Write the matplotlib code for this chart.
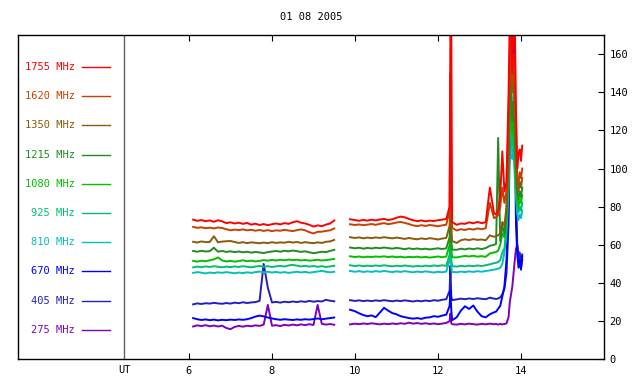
import numpy as np
import matplotlib
matplotlib.use("Agg")
import matplotlib.pyplot as plt

nan = np.nan

# time axis (UT hours): block 1, gap, block 2, flare spike, block 3, burst
hours = ([6.1, 6.2, 6.3, 6.4, 6.5, 6.6, 6.7, 6.8, 6.9, 7.0,
          7.1, 7.2, 7.3, 7.4, 7.5, 7.6, 7.7, 7.8, 7.9, 8.0,
          8.1, 8.2, 8.3, 8.4, 8.5, 8.6, 8.7, 8.8, 8.9, 9.0,
          9.1, 9.2, 9.3, 9.4, 9.5]
         + [9.65]
         + [9.88, 10.0, 10.1, 10.2, 10.3, 10.4, 10.5, 10.6, 10.7, 10.8,
            10.9, 11.0, 11.1, 11.2, 11.3, 11.4, 11.5, 11.6, 11.7, 11.8,
            11.9, 12.0, 12.1, 12.2]
         + [12.28, 12.30, 12.32, 12.34]
         + [12.45, 12.55, 12.65, 12.75, 12.85, 12.95, 13.05, 13.15, 13.25, 13.35]
         + [13.40, 13.45, 13.50, 13.55, 13.60, 13.65, 13.70, 13.73, 13.76, 13.79,
            13.82, 13.85, 13.88, 13.91, 13.94, 13.97, 14.00, 14.03])

f1755 = ([73.2, 72.6, 73.0, 72.4, 72.8, 72.1, 72.9, 72.3, 71.4, 71.8,
          71.2, 71.6, 71.0, 71.5, 70.6, 71.1, 70.4, 70.9, 70.3, 70.8,
          71.2, 70.7, 71.4, 71.0, 71.8, 72.4, 71.6, 71.2, 70.5, 69.6,
          70.2, 69.8, 70.6, 71.2, 72.8]
         + [nan]
         + [73.4, 73.0, 72.6, 73.1, 72.7, 73.2, 72.8, 73.3, 73.6, 73.0,
            73.4, 74.2, 74.8, 74.4, 73.6, 72.9, 72.4, 72.8, 72.3, 72.7,
            72.5, 72.9, 73.2, 73.6]
         + [80.0, 180.0, 180.0, 72.0]
         + [70.5, 71.2, 71.0, 71.8, 71.3, 72.0, 71.4, 71.8, 90.0, 76.5]
         + [76.0, 78.0, 86.0, 109.0, 88.0, 93.0, 139.0, 180.0, 180.0, 150.0,
            180.0, 180.0, 130.0, 100.0, 108.0, 110.0, 104.0, 112.0])

f1620 = ([69.4, 68.9, 69.2, 68.7, 69.0, 68.6, 69.1, 68.8, 68.2, 67.6,
          68.0, 67.7, 68.1, 67.6, 67.9, 67.4, 67.8, 67.3, 67.7, 67.2,
          67.6, 67.4, 67.9, 67.5, 67.2, 67.7, 68.1, 67.6, 66.6, 66.0,
          66.8, 66.9, 67.3, 67.6, 68.6]
         + [nan]
         + [70.8, 70.4, 70.7, 70.3, 70.6, 70.9, 70.5, 71.0, 71.4, 70.8,
            71.2, 71.7, 72.0, 71.5, 70.9, 70.2, 69.8, 70.3, 69.9, 70.4,
            70.1, 69.7, 70.2, 70.6]
         + [78.0, 150.0, 90.0, 69.0]
         + [67.5, 68.2, 67.8, 68.4, 68.0, 68.6, 68.2, 68.7, 82.0, 74.0]
         + [74.5, 75.5, 80.0, 90.0, 82.0, 88.0, 125.0, 160.0, 170.0, 145.0,
            160.0, 140.0, 120.0, 96.0, 92.0, 98.0, 95.0, 100.0])

f1350 = ([61.6, 61.2, 61.8, 61.4, 61.5, 64.5, 61.3, 61.7, 61.9, 62.0,
          61.5, 61.0, 61.4, 60.9, 61.3, 61.1, 60.8, 61.2, 60.9, 61.4,
          61.0, 61.3, 61.1, 61.6, 61.2, 61.5, 61.0, 61.4, 61.1, 60.9,
          61.3, 61.0, 61.6, 61.8, 62.6]
         + [nan]
         + [64.0, 63.6, 63.9, 63.4, 63.8, 63.5, 63.9, 63.6, 64.0, 63.7,
            63.4, 63.8, 63.5, 63.1, 63.6, 63.2, 62.9, 63.4, 63.0, 63.5,
            63.2, 62.8, 63.3, 63.6]
         + [70.0, 95.0, 70.0, 62.0]
         + [61.0, 62.4, 62.9, 62.5, 63.0, 62.6, 62.8, 62.4, 65.0, 64.2]
         + [64.6, 65.0, 66.0, 72.0, 70.0, 80.0, 110.0, 150.0, 160.0, 140.0,
            150.0, 130.0, 110.0, 92.0, 88.0, 93.0, 90.0, 95.0])

f1215 = ([56.8, 56.4, 56.9, 56.5, 56.7, 58.5, 56.4, 56.8, 56.3, 56.6,
          56.2, 56.5, 56.1, 56.4, 55.9, 56.3, 56.0, 55.7, 56.2, 56.5,
          56.8, 56.4, 56.9, 56.6, 57.0, 56.7, 56.3, 56.6, 56.1, 55.6,
          56.0, 56.4, 56.2, 56.8, 57.4]
         + [nan]
         + [58.6, 58.2, 58.5, 58.0, 58.4, 58.1, 58.5, 58.2, 58.6, 58.3,
            58.0, 58.4, 58.1, 57.7, 58.2, 57.8, 58.1, 57.7, 58.0, 57.6,
            57.9, 58.2, 57.8, 58.2]
         + [64.0, 80.0, 62.0, 57.5]
         + [57.4, 58.0, 57.6, 58.1, 57.7, 58.2, 57.8, 58.3, 59.5, 60.0]
         + [60.5, 116.0, 62.0, 70.0, 66.0, 78.0, 105.0, 140.0, 150.0, 125.0,
            135.0, 120.0, 100.0, 88.0, 84.0, 88.0, 85.0, 90.0])

f1080 = ([51.6, 51.2, 51.7, 51.4, 51.9, 52.4, 53.4, 51.8, 51.3, 51.6,
          51.2, 51.5, 51.9, 51.4, 51.7, 51.3, 51.6, 52.0, 51.7, 52.1,
          51.8, 52.2, 51.9, 52.3, 52.0, 52.2, 51.8, 52.1, 51.7, 51.9,
          52.2, 51.8, 52.0, 52.3, 52.6]
         + [nan]
         + [54.0, 53.6, 53.9, 53.5, 53.8, 53.6, 53.9, 53.7, 54.0, 53.6,
            53.9, 53.5, 53.8, 53.4, 53.7, 53.5, 53.8, 53.4, 53.7, 53.3,
            53.6, 53.9, 53.5, 53.9]
         + [60.0, 72.0, 58.0, 53.5]
         + [53.4, 53.8, 54.2, 53.9, 54.3, 53.8, 54.1, 53.7, 55.5, 56.0]
         + [56.2, 57.0, 60.0, 66.0, 64.0, 74.0, 98.0, 130.0, 140.0, 118.0,
            125.0, 110.0, 95.0, 84.0, 80.0, 84.0, 82.0, 86.0])

f925 = ([48.2, 48.6, 48.3, 48.7, 48.4, 48.8, 48.5, 48.2, 48.6, 48.3,
         48.7, 48.4, 48.8, 48.5, 48.2, 48.6, 48.9, 48.5, 48.8, 48.4,
         48.7, 49.0, 48.6, 49.2, 49.5, 49.1, 48.7, 49.0, 48.6, 48.9,
         48.5, 48.8, 48.4, 48.7, 49.0]
        + [nan]
        + [49.3, 48.9, 49.2, 48.8, 49.1, 48.8, 49.2, 48.9, 49.3, 49.0,
           48.7, 49.1, 48.8, 49.2, 48.9, 48.6, 49.0, 48.7, 49.1, 48.8,
           49.2, 48.9, 49.3, 49.0]
        + [55.0, 64.0, 52.0, 48.8]
        + [48.6, 49.0, 48.7, 49.1, 48.8, 49.2, 48.9, 49.3, 49.8, 50.4]
        + [50.6, 51.0, 52.0, 56.0, 58.0, 70.0, 92.0, 125.0, 135.0, 112.0,
           118.0, 102.0, 90.0, 80.0, 77.0, 80.0, 78.0, 82.0])

f810 = ([45.3, 45.7, 45.4, 45.0, 45.5, 45.2, 45.6, 45.3, 45.7, 45.4,
         45.1, 45.5, 45.2, 45.6, 45.3, 45.7, 46.0, 45.6, 45.9, 45.5,
         45.8, 45.4, 45.7, 45.3, 45.6, 45.9, 45.5, 45.8, 45.4, 45.7,
         46.0, 46.4, 45.9, 45.6, 45.9]
        + [nan]
        + [46.3, 45.9, 46.2, 45.8, 46.1, 45.8, 46.2, 45.9, 46.3, 46.0,
           45.7, 46.1, 45.8, 46.2, 45.9, 45.6, 46.0, 45.7, 46.1, 45.8,
           45.5, 45.9, 45.6, 46.0]
        + [52.0, 58.0, 48.0, 45.8]
        + [45.6, 46.0, 45.7, 46.1, 45.8, 46.2, 45.9, 46.3, 46.6, 47.0]
        + [47.2, 47.5, 48.0, 50.0, 56.0, 66.0, 88.0, 120.0, 128.0, 105.0,
           110.0, 96.0, 85.0, 76.0, 73.0, 76.0, 74.0, 78.0])

f670 = ([21.6, 21.0, 20.6, 20.9, 20.5, 20.8, 20.4, 20.7, 20.5, 20.8,
         20.6, 20.9, 20.7, 21.0, 21.6, 22.4, 22.9, 22.5, 21.9, 21.4,
         21.0, 20.7, 21.0, 20.8, 20.6, 20.9, 20.7, 21.0, 20.8, 21.1,
         21.4, 21.0, 21.3, 21.6, 21.9]
        + [nan]
        + [26.0, 25.2, 24.1, 23.2, 22.6, 23.0, 22.1, 24.5, 27.0, 25.5,
           24.2, 23.6, 22.6, 22.1, 21.6, 21.3, 21.6, 21.2, 21.8, 22.0,
           22.6, 22.3, 22.9, 23.4]
        + [28.0, 36.0, 26.0, 20.5]
        + [22.0, 25.5, 27.8, 26.4, 28.2, 25.0, 22.6, 22.0, 23.6, 24.6]
        + [25.0, 26.5, 28.0, 33.0, 38.0, 52.0, 80.0, 130.0, 180.0, 180.0,
           180.0, 120.0, 70.0, 55.0, 48.0, 52.0, 47.0, 54.0])

f405 = ([28.8, 29.3, 29.0, 29.4, 29.2, 29.6, 29.3, 29.1, 29.5, 29.2,
         29.7, 29.4, 29.9, 29.5, 29.8, 30.0, 30.6, 50.0, 37.5, 29.8,
         30.1, 29.7, 30.2, 29.9, 30.3, 30.0, 30.4, 30.1, 30.6, 30.2,
         30.5, 30.3, 31.2, 30.7, 30.4]
        + [nan]
        + [31.0, 30.6, 30.9, 30.5, 30.8, 30.5, 30.9, 30.6, 31.0, 30.7,
           30.4, 30.8, 30.5, 30.9, 30.6, 30.3, 30.7, 30.4, 30.8, 30.5,
           31.0, 30.7, 31.2, 31.5]
        + [36.0, 49.0, 33.0, 31.0]
        + [31.4, 31.8, 31.5, 31.9, 31.6, 32.0, 31.7, 31.5, 32.3, 31.8]
        + [31.6, 31.9, 32.5, 34.0, 37.0, 45.0, 70.0, 115.0, 170.0, 180.0,
           180.0, 150.0, 90.0, 60.0, 52.0, 56.0, 50.0, 55.0])

f275 = ([17.2, 17.8, 17.4, 17.9, 17.3, 17.7, 17.2, 17.6, 16.4, 15.8,
         17.0, 17.5, 17.1, 17.6, 17.3, 17.8, 17.5, 18.2, 28.5, 17.6,
         17.9, 17.4, 18.1, 17.7, 18.2, 17.8, 18.3, 17.9, 18.4, 18.0,
         28.5, 18.6, 18.2, 18.5, 18.1]
        + [nan]
        + [18.3, 18.7, 18.4, 18.8, 18.5, 18.9, 18.6, 18.3, 18.7, 18.4,
           18.8, 18.5, 18.9, 18.6, 19.2, 18.7, 19.0, 18.6, 18.9, 18.5,
           18.8, 18.4, 18.7, 19.1]
        + [20.0, 24.0, 19.0, 18.4]
        + [18.2, 18.6, 18.3, 18.7, 18.4, 18.2, 18.6, 18.3, 18.7, 18.4]
        + [18.5, 18.2, 18.6, 18.3, 18.5, 18.8, 22.0, 30.0, 34.0, 38.0,
           45.0, 52.0, 58.0, 60.0, 56.0, 50.0, 48.0, 52.0])

labels = ['1755 MHz', '1620 MHz', '1350 MHz', '1215 MHz', '1080 MHz',
          '925 MHz', '810 MHz', '670 MHz', '405 MHz', '275 MHz']
series = [f1755, f1620, f1350, f1215, f1080, f925, f810, f670, f405, f275]
colors = ['#ff0000', '#c84000', '#8b5a0a', '#228b22', '#00c000',
          '#00c070', '#00c0c0', '#0000ff', '#2020c0', '#8000c0']

plt.rcParams['font.family'] = ['DejaVu Sans Mono']

fig = plt.figure(figsize=(6.4, 3.84), dpi=100)
ax = fig.add_axes([18 / 640, 24.7 / 384, 586 / 640, 324.3 / 384])

# lowest frequency first so the red 1755 trace lies on top
for vals, col in zip(series[::-1], colors[::-1]):
    ax.plot(hours, vals, color=col, linewidth=1.4)

ax.set_xlim(1.88, 16.0)
ax.set_ylim(0, 170)

# separator between the legend panel and the data
ax.axvline(4.44, color='#606060', linewidth=1)

# legend drawn by hand on the left panel
for i, (lab, col) in enumerate(zip(labels, colors)):
    ypx = 67 + 29.2 * i
    yf = (359.3 - ypx) / 324.3
    ax.text(3.25, yf, lab, color=col, fontsize=7.5, ha='right', va='center',
            transform=ax.get_xaxis_transform())
    ax.plot([3.42, 4.10], [yf, yf], color=col, linewidth=1,
            transform=ax.get_xaxis_transform())

ax.set_xticks([6, 8, 10, 12, 14])
ax.set_xticklabels(['6', '8', '10', '12', '14'])
ax.set_yticks(range(0, 161, 20))
ax.yaxis.tick_right()
ax.tick_params(axis='x', direction='in', top=True, bottom=True, length=4,
               labelsize=7.5, pad=5)
ax.tick_params(axis='y', direction='in', right=True, left=False, length=4,
               labelsize=7.5, pad=4)
ax.text(4.44, -0.032, 'UT', fontsize=7.5, ha='center', va='center',
        transform=ax.get_xaxis_transform())

for sp in ax.spines.values():
    sp.set_linewidth(1)

fig.text(311 / 640, 1 - 17 / 384, '01 08 2005', fontsize=7.5,
         ha='center', va='center')

fig.savefig('out.png', dpi=100)
